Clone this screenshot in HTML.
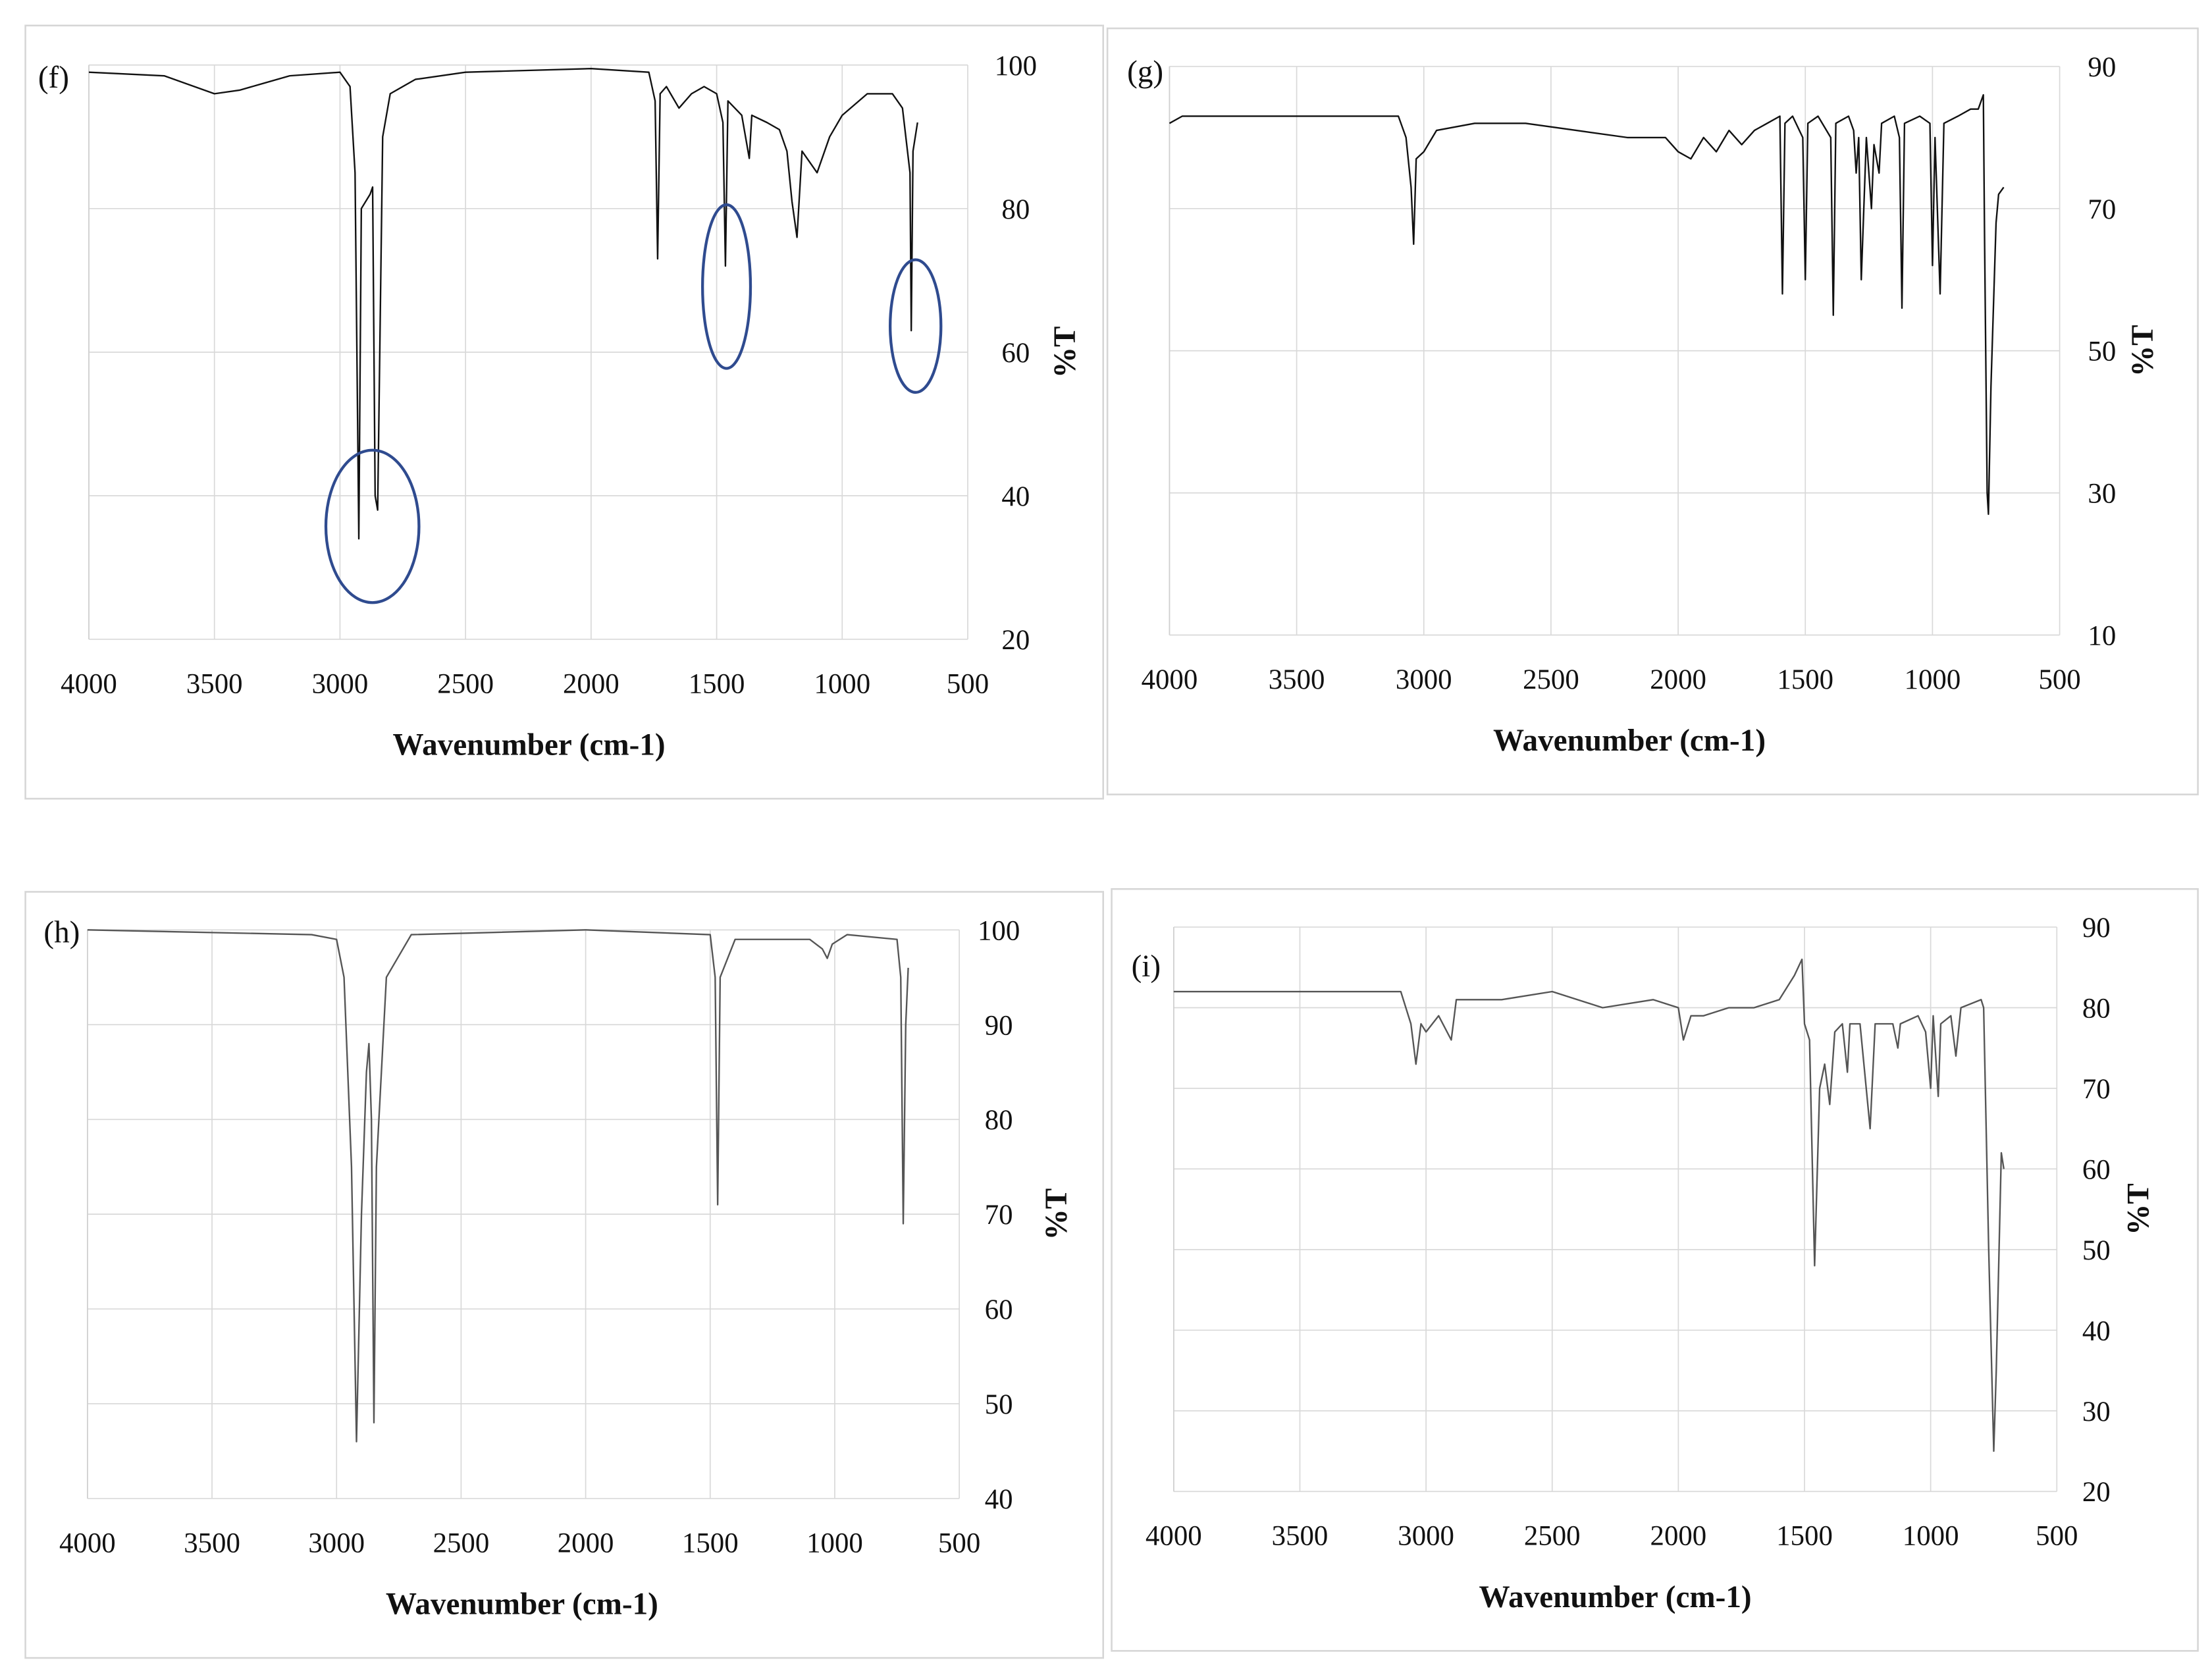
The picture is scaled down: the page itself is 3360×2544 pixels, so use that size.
<!DOCTYPE html>
<html><head><meta charset="utf-8"><title>FTIR spectra</title>
<style>
html,body{margin:0;padding:0;background:#fff;}
svg{display:block;}
text{font-family:"Liberation Serif",serif;fill:#111;}
</style></head>
<body>
<svg id="fig" width="3360" height="2544" viewBox="0 0 1568 1187" xmlns="http://www.w3.org/2000/svg"></svg>
<script>
// ---- Panel (f) data ----
const fWn = [4000,3700,3500,3400,3200,3000,2960,2940,2925,2915,2880,2870,2860,2850,2830,2800,2700,2500,2000,1770,1745,1735,1725,1700,1650,1600,1550,1500,1475,1465,1455,1400,1370,1360,1300,1250,1220,1200,1180,1160,1100,1050,1000,900,800,760,730,725,718,700];
const fT  = [99,98.5,96,96.5,98.5,99,97,85,34,80,82,83,40,38,90,96,98,99,99.5,99,95,73,96,97,94,96,97,96,92,72,95,93,87,93,92,91,88,81,76,88,85,90,93,96,96,94,85,63,88,92];
const fTicks = [20,40,60,80,100];
// ---- Panel (g) data ----
const gWn = [4000,3950,3500,3100,3070,3050,3040,3030,3000,2950,2800,2600,2400,2200,2050,2000,1950,1900,1850,1800,1750,1700,1650,1600,1590,1580,1550,1510,1500,1490,1450,1400,1390,1380,1330,1310,1300,1290,1280,1260,1240,1230,1210,1200,1150,1130,1120,1110,1050,1010,1000,990,970,955,900,850,820,810,800,795,785,780,770,750,740,720];
const gT  = [82,83,83,83,80,73,65,77,78,81,82,82,81,80,80,78,77,80,78,81,79,81,82,83,58,82,83,80,60,82,83,80,55,82,83,81,75,80,60,80,70,79,75,82,83,80,56,82,83,82,62,80,58,82,83,84,84,85,86,65,30,27,45,68,72,73];
const gTicks = [10,30,50,70,90];
// ---- Panel (h) data ----
const hWn = [4000,3100,3000,2970,2940,2920,2900,2880,2870,2860,2850,2840,2800,2700,2000,1500,1480,1470,1460,1400,1100,1050,1030,1010,950,750,735,725,715,705];
const hT  = [100,99.5,99,95,75,46,70,85,88,80,48,75,95,99.5,100,99.5,95,71,95,99,99,98,97,98.5,99.5,99,95,69,90,96];
const hTicks = [40,50,60,70,80,90,100];
// ---- Panel (i) data ----
const iWn = [4000,3500,3100,3060,3040,3020,3000,2950,2900,2880,2700,2500,2300,2100,2000,1980,1950,1900,1800,1700,1600,1540,1510,1500,1480,1460,1440,1420,1400,1380,1350,1330,1320,1280,1240,1220,1150,1130,1120,1050,1020,1000,990,970,960,920,900,880,800,790,770,750,740,720,710];
const iT  = [82,82,82,78,73,78,77,79,76,81,81,82,80,81,80,76,79,79,80,80,81,84,86,78,76,48,70,73,68,77,78,72,78,78,65,78,78,75,78,79,77,70,79,69,78,79,74,80,81,80,50,25,35,62,60];
const iTicks = [20,30,40,50,60,70,80,90];
const xTicks = [4000,3500,3000,2500,2000,1500,1000,500];

const svg = document.getElementById('fig');
const NS = 'http://www.w3.org/2000/svg';
function mk(tag, attrs, parent){
  const e = document.createElementNS(NS, tag);
  for (const k in attrs) e.setAttribute(k, attrs[k]);
  (parent||svg).appendChild(e);
  return e;
}

function panel(cfg, wn, tv, yTicks){
  const g = mk('g', {});
  
  
  const box = mk('rect', {x:cfg.bx, y:cfg.by, width:cfg.bw, height:cfg.bh, fill:'#fff', stroke:'#d6d6d6', 'stroke-width':1.2}, g);
  
  
  const X = w => cfg.x0 + (4000 - w) / 3500 * (cfg.x1 - cfg.x0);
  const Y = v => cfg.y1 - (v - cfg.ymin) / (cfg.ymax - cfg.ymin) * (cfg.y1 - cfg.y0);
  for (const t of yTicks){
    const l = mk('line', {x1:cfg.x0, x2:cfg.x1, y1:Y(t), y2:Y(t), stroke:'#d9d9d9', 'stroke-width':0.8}, g);
    
    
    const tx = mk('text', {x:cfg.x1 + cfg.tickDx, y:Y(t) + 7, 'font-size':20, 'text-anchor':'middle'}, g);
    tx.textContent = t;
    
    
  }
  for (const w of xTicks){
    const l = mk('line', {x1:X(w), x2:X(w), y1:cfg.y0, y2:cfg.y1, stroke:'#d9d9d9', 'stroke-width':0.8}, g);
    
    
    const tx = mk('text', {x:X(w), y:cfg.y1 + 38, 'font-size':20, 'text-anchor':'middle'}, g);
    tx.textContent = w;
    
    
  }
  const ax = mk('line', {x1:cfg.x0, x2:cfg.x0, y1:cfg.y0, y2:cfg.y1, stroke:'#d0d0d0', 'stroke-width':0.8}, g);
  
  
  let d = '';
  for (let k = 0; k < wn.length; k++) d += (k ? 'L' : 'M') + X(wn[k]).toFixed(2) + ' ' + Y(tv[k]).toFixed(2);
  const p = mk('path', {d:d, fill:'none', stroke:cfg.lineColor, 'stroke-width':1.1, 'stroke-linejoin':'round'}, g);
  
  
  const lab = mk('text', {x:cfg.labX, y:cfg.labY, 'font-size':22}, g);
  lab.textContent = '(' + cfg.id + ')';
  
  
  const xt = mk('text', {x:cfg.titleX, y:cfg.y1 + 82, 'font-size':22, 'font-weight':'bold', 'text-anchor':'middle'}, g);
  xt.textContent = 'Wavenumber (cm-1)';
  
  
  const yc = (cfg.y0 + cfg.y1) / 2;
  const yt = mk('text', {x:cfg.yTitleX, y:yc, 'font-size':22, 'font-weight':'bold', 'text-anchor':'middle', transform:'rotate(-90 ' + cfg.yTitleX + ' ' + yc + ')'}, g);
  yt.textContent = '%T';
  
  
  return g;
}

const gf = panel({id:'f', bx:18, by:18, bw:764, bh:548, x0:63, x1:686, y0:46, y1:453, ymin:20, ymax:100, tickDx:34, labX:27, labY:62, titleX:375, yTitleX:762, lineColor:'#111'}, fWn, fT, fTicks);
panel({id:'g', bx:785, by:20, bw:773, bh:543, x0:829, x1:1460, y0:47, y1:450, ymin:10, ymax:90, tickDx:30, labX:799, labY:58, titleX:1155, yTitleX:1526, lineColor:'#111'}, gWn, gT, gTicks);
panel({id:'h', bx:18, by:632, bw:764, bh:543, x0:62, x1:680, y0:659, y1:1062, ymin:40, ymax:100, tickDx:28, labX:31, labY:668, titleX:370, yTitleX:756, lineColor:'#555'}, hWn, hT, hTicks);
panel({id:'i', bx:788, by:630, bw:770, bh:540, x0:832, x1:1458, y0:657, y1:1057, ymin:20, ymax:90, tickDx:28, labX:802, labY:692, titleX:1145, yTitleX:1523, lineColor:'#555'}, iWn, iT, iTicks);

const circles = [[264,373,33,54],[515,203,17,58],[649,231,18,47]];
for (const c of circles){
  const e = mk('ellipse', {cx:c[0], cy:c[1], rx:c[2], ry:c[3], fill:'none', stroke:'#2f4b8f', 'stroke-width':2}, gf);
  
  
}
</script>
</body></html>
